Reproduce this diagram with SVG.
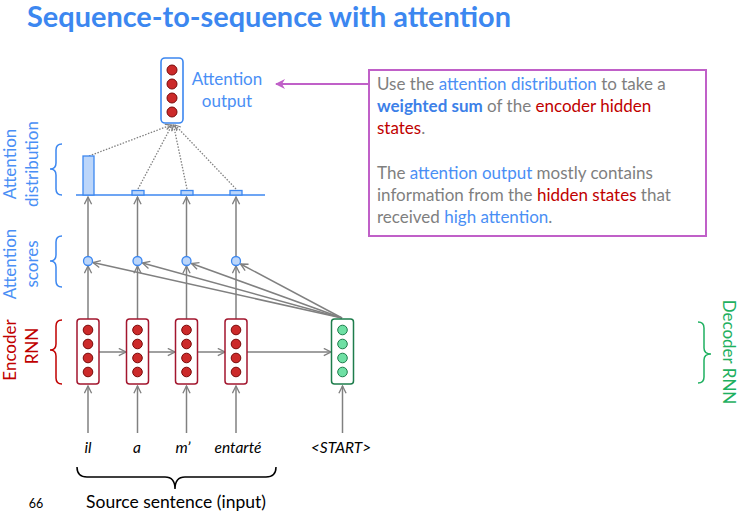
<svg xmlns="http://www.w3.org/2000/svg" width="739" height="523" viewBox="0 0 739 523">
<defs>
<style>
.t{font-family:Lato,"Liberation Sans",sans-serif}
.blue{fill:#4a8ff5}
.red{fill:#c00000}
.gray{fill:#7f7f7f}
.conn{stroke:#808080;stroke-width:1.5;fill:none}
.dot{stroke:#808080;stroke-width:1.3;fill:none;stroke-dasharray:1.5 1.5}
.ebox{fill:#fff;stroke:#a3162e;stroke-width:1.5}
.ec{fill:#cc2a2a;stroke:#7a0a0a;stroke-width:1}
.dbox{fill:#fff;stroke:#1e7d4c;stroke-width:1.5}
.dc{fill:#6ee0a4;stroke:#1e7d4c;stroke-width:1}
.sc{fill:#bcd6fa;stroke:#3c87f0;stroke-width:1.3}
.bar{fill:#bcd6fa;stroke:#3c87f0;stroke-width:1.3}
.brace{fill:none;stroke-width:1.5}
.cl{font-size:17px}
.rl{font-size:17px}
</style>
<marker id="ah" viewBox="0 0 10 10" refX="9" refY="5" markerWidth="9" markerHeight="9" markerUnits="userSpaceOnUse" orient="auto"><path d="M1 1 L9 5 L1 9" fill="none" stroke="#808080" stroke-width="1.5"/></marker>
<marker id="ahs" viewBox="0 0 10 10" refX="9" refY="5" markerWidth="7" markerHeight="7" markerUnits="userSpaceOnUse" orient="auto"><path d="M1 1 L9 5 L1 9" fill="none" stroke="#808080" stroke-width="1.5"/></marker>
<marker id="ahp" viewBox="0 0 10 10" refX="9" refY="5" markerWidth="10" markerHeight="10" markerUnits="userSpaceOnUse" orient="auto"><path d="M0 0 L10 5 L0 10 L3 5 z" fill="#c060c8"/></marker>
</defs>
<rect width="739" height="523" fill="#fff"/>

<text class="t" x="27" y="27" font-size="28" font-weight="bold" fill="#3c87f0" textLength="484" lengthAdjust="spacingAndGlyphs">Sequence-to-sequence with attention</text>

<g id="connectors">
  <line class="conn" x1="88" y1="433" x2="88" y2="386" marker-end="url(#ah)"/>
  <line class="conn" x1="137.5" y1="433" x2="137.5" y2="386" marker-end="url(#ah)"/>
  <line class="conn" x1="186.5" y1="433" x2="186.5" y2="386" marker-end="url(#ah)"/>
  <line class="conn" x1="236" y1="433" x2="236" y2="386" marker-end="url(#ah)"/>
  <line class="conn" x1="342.5" y1="433" x2="342.5" y2="386" marker-end="url(#ah)"/>
  <line class="conn" x1="99" y1="352" x2="126" y2="352" marker-end="url(#ah)"/>
  <line class="conn" x1="148" y1="352" x2="175" y2="352" marker-end="url(#ah)"/>
  <line class="conn" x1="197" y1="352" x2="225" y2="352" marker-end="url(#ah)"/>
  <line class="conn" x1="247" y1="352" x2="331" y2="352" marker-end="url(#ah)"/>
  <line class="conn" x1="88" y1="319" x2="88" y2="266" marker-end="url(#ah)"/>
  <line class="conn" x1="137.5" y1="319" x2="137.5" y2="266" marker-end="url(#ah)"/>
  <line class="conn" x1="186.5" y1="319" x2="186.5" y2="266" marker-end="url(#ah)"/>
  <line class="conn" x1="236" y1="319" x2="236" y2="266" marker-end="url(#ah)"/>
  <line class="conn" x1="342" y1="318" x2="93" y2="262.5" marker-end="url(#ah)"/>
  <line class="conn" x1="342" y1="318" x2="142.5" y2="263" marker-end="url(#ah)"/>
  <line class="conn" x1="342" y1="318" x2="191.5" y2="263.5" marker-end="url(#ah)"/>
  <line class="conn" x1="342" y1="318" x2="240.5" y2="264" marker-end="url(#ah)"/>
  <line class="conn" x1="88" y1="256" x2="88" y2="197" marker-end="url(#ah)"/>
  <line class="conn" x1="137.5" y1="256" x2="137.5" y2="197" marker-end="url(#ah)"/>
  <line class="conn" x1="186.5" y1="256" x2="186.5" y2="197" marker-end="url(#ah)"/>
  <line class="conn" x1="236" y1="256" x2="236" y2="197" marker-end="url(#ah)"/>
  <line class="dot" x1="89" y1="156" x2="171" y2="125" marker-end="url(#ahs)"/>
  <line class="dot" x1="138" y1="189" x2="172" y2="125" marker-end="url(#ahs)"/>
  <line class="dot" x1="187" y1="189" x2="173.5" y2="125" marker-end="url(#ahs)"/>
  <line class="dot" x1="236" y1="189" x2="175" y2="125" marker-end="url(#ahs)"/>
  <line x1="368" y1="84" x2="276" y2="84" stroke="#c060c8" stroke-width="2" marker-end="url(#ahp)"/>
</g>

<g id="attention-output">
  <rect x="161" y="58" width="22" height="65" rx="4" fill="#fff" stroke="#3c87f0" stroke-width="1.6"/>
  <circle class="ec" cx="172" cy="70" r="5"/>
  <circle class="ec" cx="172" cy="84" r="5"/>
  <circle class="ec" cx="172" cy="98" r="5"/>
  <circle class="ec" cx="172" cy="112" r="5"/>
  <text class="t blue" x="227" y="85" font-size="17" text-anchor="middle">Attention</text>
  <text class="t blue" x="227" y="107" font-size="17" text-anchor="middle">output</text>
</g>

<g id="attention-distribution">
  <line x1="76" y1="195" x2="265" y2="195" stroke="#3c87f0" stroke-width="1.6"/>
  <rect class="bar" x="83" y="156" width="11" height="39"/>
  <rect class="bar" x="132" y="190.5" width="12" height="4.5"/>
  <rect class="bar" x="181" y="190.5" width="12" height="4.5"/>
  <rect class="bar" x="230" y="190.5" width="12" height="4.5"/>
</g>

<g id="attention-scores">
  <circle class="sc" cx="88" cy="261" r="4.5"/>
  <circle class="sc" cx="137.5" cy="261" r="4.5"/>
  <circle class="sc" cx="186.5" cy="261" r="4.5"/>
  <circle class="sc" cx="236" cy="261" r="4.5"/>
</g>

<g id="enc1">
  <rect class="ebox" x="77" y="319" width="22" height="65" rx="3"/>
  <circle class="ec" cx="88" cy="330" r="4.8"/><circle class="ec" cx="88" cy="344" r="4.8"/><circle class="ec" cx="88" cy="358" r="4.8"/><circle class="ec" cx="88" cy="372" r="4.8"/>
</g>
<g id="enc2">
  <rect class="ebox" x="126.5" y="319" width="22" height="65" rx="3"/>
  <circle class="ec" cx="137.5" cy="330" r="4.8"/><circle class="ec" cx="137.5" cy="344" r="4.8"/><circle class="ec" cx="137.5" cy="358" r="4.8"/><circle class="ec" cx="137.5" cy="372" r="4.8"/>
</g>
<g id="enc3">
  <rect class="ebox" x="175.5" y="319" width="22" height="65" rx="3"/>
  <circle class="ec" cx="186.5" cy="330" r="4.8"/><circle class="ec" cx="186.5" cy="344" r="4.8"/><circle class="ec" cx="186.5" cy="358" r="4.8"/><circle class="ec" cx="186.5" cy="372" r="4.8"/>
</g>
<g id="enc4">
  <rect class="ebox" x="225" y="319" width="22" height="65" rx="3"/>
  <circle class="ec" cx="236" cy="330" r="4.8"/><circle class="ec" cx="236" cy="344" r="4.8"/><circle class="ec" cx="236" cy="358" r="4.8"/><circle class="ec" cx="236" cy="372" r="4.8"/>
</g>
<g id="dec1">
  <rect class="dbox" x="331.5" y="319" width="22" height="65" rx="3"/>
  <circle class="dc" cx="342.5" cy="330" r="4.8"/><circle class="dc" cx="342.5" cy="344" r="4.8"/><circle class="dc" cx="342.5" cy="358" r="4.8"/><circle class="dc" cx="342.5" cy="372" r="4.8"/>
</g>

<g id="inputs" class="t" font-size="15.5" font-style="italic" fill="#000" text-anchor="middle">
  <text x="88" y="453">il</text>
  <text x="137" y="453">a</text>
  <text x="183" y="453">m’</text>
  <text x="238" y="453">entarté</text>
  <text x="341" y="453">&lt;START&gt;</text>
</g>

<g id="source-brace">
  <path class="brace" stroke="#000" d="M77 467 Q77 477 87 477 L165 477 Q175 477 175 489 Q175 477 185 477 L266 477 Q276 477 276 467"/>
  <text class="t" x="176" y="508" font-size="17.5" text-anchor="middle" fill="#000">Source sentence (input)</text>
  <text class="t" x="36" y="508" font-size="12.5" text-anchor="middle" fill="#000">66</text>
</g>

<g id="label-distribution">
  <path class="brace" stroke="#3c87f0" d="M62 144 Q56 144 56 150 L56 163 Q56 169 50 169 Q56 169 56 175 L56 189 Q56 195 62 195"/>
  <text class="t blue rl" text-anchor="middle" transform="translate(16 164) rotate(-90)">Attention</text>
  <text class="t blue rl" text-anchor="middle" transform="translate(38 164) rotate(-90)">distribution</text>
</g>
<g id="label-scores">
  <path class="brace" stroke="#3c87f0" d="M62 236 Q56 236 56 242 L56 255 Q56 261 50 261 Q56 261 56 267 L56 281 Q56 287 62 287"/>
  <text class="t blue rl" text-anchor="middle" transform="translate(16 264) rotate(-90)">Attention</text>
  <text class="t blue rl" text-anchor="middle" transform="translate(38 264) rotate(-90)">scores</text>
</g>
<g id="label-encoder">
  <path class="brace" stroke="#c00000" d="M62 320 Q56 320 56 326 L56 344 Q56 350 50 350 Q56 350 56 356 L56 378 Q56 384 62 384"/>
  <text class="t red rl" text-anchor="middle" transform="translate(16 350) rotate(-90)">Encoder</text>
  <text class="t red rl" text-anchor="middle" transform="translate(38 346) rotate(-90)">RNN</text>
</g>
<g id="label-decoder">
  <path class="brace" stroke="#1fb060" d="M698 322 Q704 322 704 328 L704 348 Q704 354 711 354 Q704 354 704 360 L704 377 Q704 383 698 383"/>
  <text class="t rl" fill="#1fb060" text-anchor="middle" transform="translate(723 352) rotate(90)">Decoder RNN</text>
</g>

<g id="callout">
  <rect x="369" y="70" width="337" height="166" fill="#fff" stroke="#c060c8" stroke-width="2"/>
  <text class="t gray cl" x="377" y="90">Use the <tspan class="blue">attention distribution</tspan> to take a</text>
  <text class="t gray cl" x="377" y="112"><tspan fill="#3c80e8" font-weight="bold">weighted sum</tspan> of the <tspan class="red">encoder hidden</tspan></text>
  <text class="t gray cl" x="377" y="134"><tspan class="red">states</tspan>.</text>
  <text class="t gray cl" x="377" y="179">The <tspan class="blue">attention output</tspan> mostly contains</text>
  <text class="t gray cl" x="377" y="201">information from the <tspan class="red">hidden states</tspan> that</text>
  <text class="t gray cl" x="377" y="223">received <tspan class="blue">high attention</tspan>.</text>
</g>
</svg>
